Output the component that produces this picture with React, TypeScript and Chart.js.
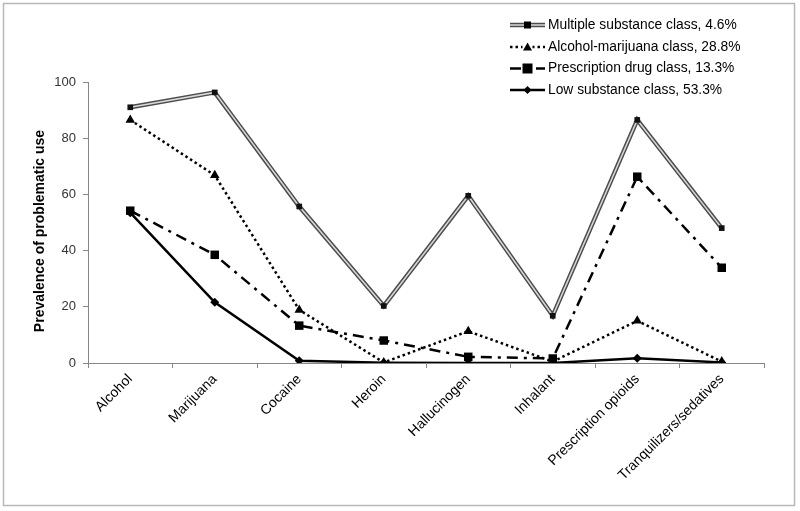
import React, { useEffect, useRef } from 'react';
import { Chart, registerables } from 'chart.js';

Chart.register(...registerables);

const categories = ['Alcohol', 'Marijuana', 'Cocaine', 'Heroin', 'Hallucinogen', 'Inhalant', 'Prescription opioids', 'Tranquilizers/sedatives'];
const seriesNames = ['Multiple substance class, 4.6%', 'Alcohol-marijuana class, 28.8%', 'Prescription drug class, 13.3%', 'Low substance class, 53.3%'];
const multiple = [91, 96.3, 55.7, 20.3, 59.5, 16.8, 86.5, 48];
const alcoholMarijuana = [86.5, 66.8, 18.9, 0.2, 11.3, 0.5, 15, 0.5];
const prescription = [54.2, 38.5, 13.3, 8, 2.2, 1.6, 66.3, 33.9];
const low = [53.5, 21.6, 0.8, 0.1, 0, 0, 1.7, 0.2];
const yTicks = [0, 20, 40, 60, 80, 100];
const yTitle = 'Prevalence of problematic use';

const FONT = 'Arial, "Liberation Sans", sans-serif';
const DASH_AM = [2.5, 3];
const DASH_PD = [11, 6, 3, 6];

function drawMarker(ctx: CanvasRenderingContext2D, kind: string, x: number, y: number, r: number) {
  ctx.save();
  ctx.fillStyle = '#000';
  ctx.beginPath();
  if (kind === 'rect') {
    ctx.rect(x - r, y - r, 2 * r, 2 * r);
  } else if (kind === 'triangle') {
    ctx.moveTo(x, y - r);
    ctx.lineTo(x + r, y + r * 0.8);
    ctx.lineTo(x - r, y + r * 0.8);
    ctx.closePath();
  } else if (kind === 'diamond') {
    ctx.moveTo(x, y - r);
    ctx.lineTo(x + r, y);
    ctx.lineTo(x, y + r);
    ctx.lineTo(x - r, y);
    ctx.closePath();
  }
  ctx.fill();
  ctx.restore();
}

const decorPlugin = {
  id: 'decor',
  beforeDraw(chart: any) {
    const ctx: CanvasRenderingContext2D = chart.ctx;
    ctx.save();
    ctx.fillStyle = '#fff';
    ctx.fillRect(0, 0, chart.width, chart.height);
    ctx.strokeStyle = '#b8b8b8';
    ctx.lineWidth = 1.5;
    ctx.strokeRect(3.5, 3.5, 791, 502);
    ctx.restore();
  },
  afterDraw(chart: any) {
    const ctx: CanvasRenderingContext2D = chart.ctx;
    // y axis title
    ctx.save();
    ctx.translate(40, 231);
    ctx.rotate(-Math.PI / 2);
    ctx.font = 'bold 14px ' + FONT;
    ctx.fillStyle = '#000';
    ctx.textAlign = 'center';
    ctx.textBaseline = 'middle';
    ctx.fillText(yTitle, 0, 0);
    ctx.restore();

    // legend
    const rows = [25, 47, 68.5, 90];
    const x0 = 510, x1 = 545, xm = 527.5, tx = 548;
    ctx.save();
    ctx.font = '13.8px ' + FONT;
    ctx.textBaseline = 'middle';
    ctx.textAlign = 'left';
    rows.forEach((y, i) => {
      ctx.save();
      ctx.lineCap = 'butt';
      if (i === 0) {
        ctx.strokeStyle = '#4d4d4d';
        ctx.lineWidth = 4.5;
        ctx.beginPath(); ctx.moveTo(x0, y); ctx.lineTo(x1, y); ctx.stroke();
        ctx.strokeStyle = '#d9d9d9';
        ctx.lineWidth = 1.5;
        ctx.beginPath(); ctx.moveTo(x0, y); ctx.lineTo(x1, y); ctx.stroke();
        drawMarker(ctx, 'rect', xm, y, 3.5);
      } else if (i === 1) {
        ctx.strokeStyle = '#000';
        ctx.lineWidth = 2.5;
        ctx.setLineDash(DASH_AM);
        ctx.beginPath(); ctx.moveTo(x0, y); ctx.lineTo(x1, y); ctx.stroke();
        ctx.setLineDash([]);
        ctx.fillStyle = '#fff';
        ctx.fillRect(xm - 5, y - 6, 10, 12);
        drawMarker(ctx, 'triangle', xm, y, 4.5);
      } else if (i === 2) {
        ctx.strokeStyle = '#000';
        ctx.lineWidth = 2.5;
        ctx.setLineDash(DASH_PD);
        ctx.beginPath(); ctx.moveTo(x0, y); ctx.lineTo(x1, y); ctx.stroke();
        ctx.setLineDash([]);
        drawMarker(ctx, 'rect', xm, y, 5);
      } else {
        ctx.strokeStyle = '#000';
        ctx.lineWidth = 2.5;
        ctx.beginPath(); ctx.moveTo(x0, y); ctx.lineTo(x1, y); ctx.stroke();
        drawMarker(ctx, 'diamond', xm, y, 4);
      }
      ctx.restore();
      ctx.fillStyle = '#000';
      ctx.fillText(seriesNames[i], tx, y);
    });
    ctx.restore();
  },
};

export default function App() {
  const ref = useRef<HTMLCanvasElement>(null);
  useEffect(() => {
    if (!ref.current) return;
    const chart = new Chart(ref.current, {
      type: 'line',
      data: {
        labels: categories,
        datasets: [
          {
            label: seriesNames[3], data: low, borderColor: '#000', backgroundColor: '#000', borderWidth: 2.5,
            pointStyle: 'rectRot', pointRadius: 4.5, pointBackgroundColor: '#000', pointBorderColor: '#000', pointBorderWidth: 0, order: 1, tension: 0,
          },
          {
            label: seriesNames[2], data: prescription, borderColor: '#000', backgroundColor: '#000', borderWidth: 2.5, borderDash: DASH_PD,
            pointStyle: 'rect', pointRadius: 6, pointBackgroundColor: '#000', pointBorderColor: '#000', pointBorderWidth: 0, order: 2, tension: 0,
          },
          {
            label: seriesNames[1], data: alcoholMarijuana, borderColor: '#000', backgroundColor: '#000', borderWidth: 2.5, borderDash: DASH_AM,
            pointStyle: 'triangle', pointRadius: 5.5, pointBackgroundColor: '#000', pointBorderColor: '#000', pointBorderWidth: 0, order: 3, tension: 0,
          },
          {
            label: seriesNames[0], data: multiple, borderColor: '#d9d9d9', backgroundColor: '#111', borderWidth: 1.5,
            pointStyle: 'rect', pointRadius: 4, pointBackgroundColor: '#111', pointBorderColor: '#111', pointBorderWidth: 0, order: 4, tension: 0,
          },
          {
            label: seriesNames[0] + ' outline', data: multiple, borderColor: '#4d4d4d', borderWidth: 4.5,
            pointRadius: 0, order: 5, tension: 0,
          },
        ],
      },
      options: {
        responsive: false,
        animation: false,
        events: [],
        layout: { padding: { left: 0, top: 82, right: 36, bottom: 0 } },
        plugins: { legend: { display: false }, tooltip: { enabled: false }, title: { display: false } },
        scales: {
          x: {
            offset: true,
            grid: { display: true, drawOnChartArea: false, drawTicks: true, tickLength: 5, color: '#868686', offset: true },
            border: { display: true, color: '#868686', width: 1 },
            ticks: { autoSkip: false, maxRotation: 45, minRotation: 45, color: '#000', font: { family: FONT, size: 14 }, padding: 3 },
            afterFit: (scale: any) => { scale.height = 148; },
          },
          y: {
            min: 0, max: 100,
            afterBuildTicks: (scale: any) => { scale.ticks = yTicks.map((v) => ({ value: v })); },
            grid: { display: true, drawOnChartArea: false, drawTicks: true, tickLength: 5, color: '#868686' },
            border: { display: true, color: '#868686', width: 1 },
            ticks: { color: '#333', font: { family: FONT, size: 13 }, padding: 7 },
            afterFit: (scale: any) => { scale.width = 88; },
          },
        },
      },
      plugins: [decorPlugin],
    });
    return () => chart.destroy();
  }, []);
  return (
    <div style={{ position: 'absolute', left: 0, top: 0, width: 800, height: 511 }}>
      <canvas ref={ref} width={800} height={511} style={{ width: 800, height: 511 }} />
    </div>
  );
}
